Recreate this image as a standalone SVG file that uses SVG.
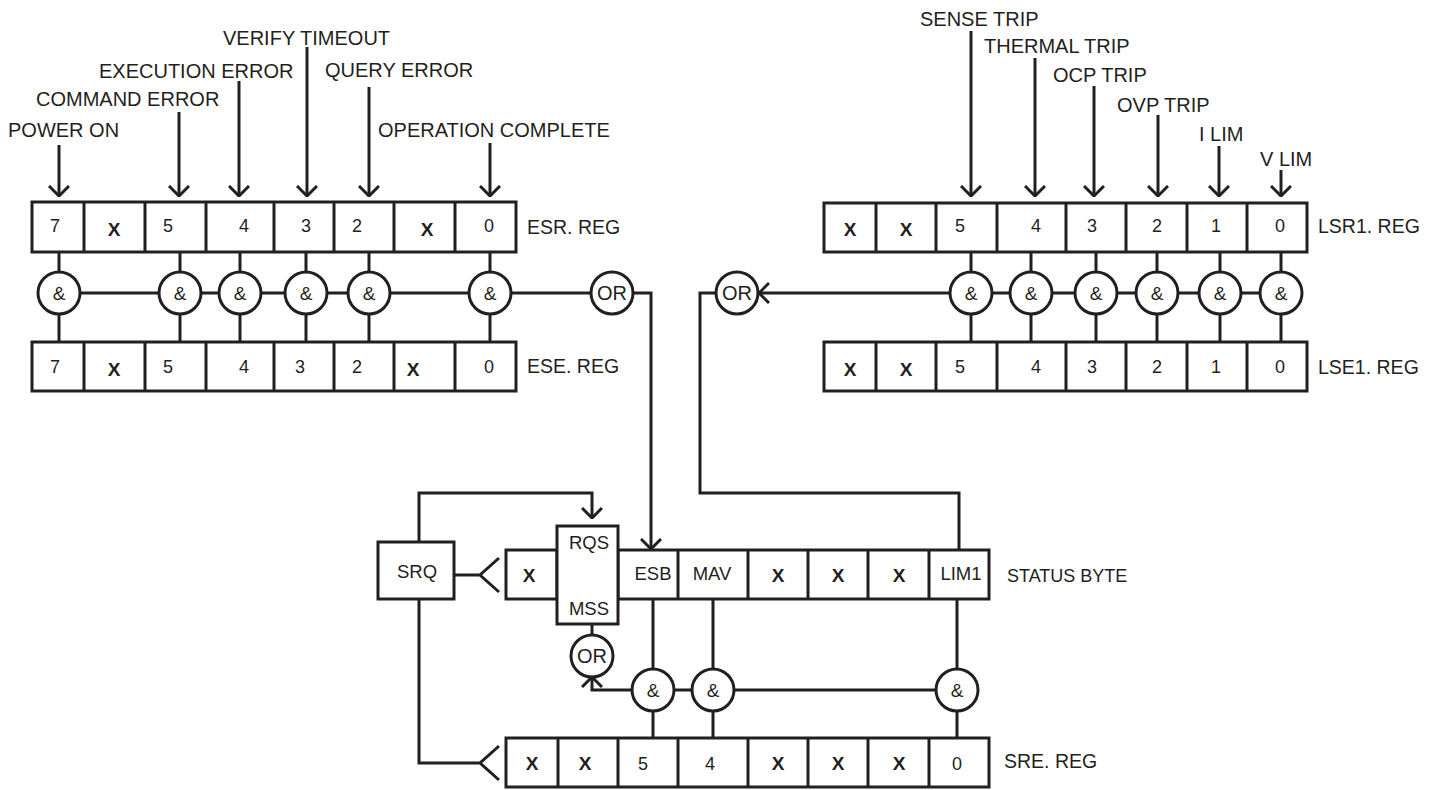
<svg xmlns="http://www.w3.org/2000/svg" width="1439" height="790" viewBox="0 0 1439 790">
<style>
.ln{fill:none;stroke:#231f20;stroke-width:3}
.box{fill:#fff;stroke:#231f20;stroke-width:3}
.gate{fill:#fff;stroke:#231f20;stroke-width:3}
text{font-family:"Liberation Sans",Arial,sans-serif;fill:#231f20}
.lbl{font-size:20px}
.reg{font-size:19.5px}
.sb{font-size:18px}
.d{font-size:18px;text-anchor:middle}
.x{font-size:19px;font-weight:bold;text-anchor:middle}
.c{font-size:18.5px;text-anchor:middle}
.g{font-size:19px;text-anchor:middle}
.o{font-size:20px;text-anchor:middle}
</style>
<defs>
<marker id="arr" viewBox="0 0 12 22" refX="11" refY="11" markerWidth="12" markerHeight="22" markerUnits="userSpaceOnUse" orient="auto">
<path d="M1,1 L11,11 L1,21" fill="none" stroke="#231f20" stroke-width="3"/>
</marker>
</defs>
<rect width="1439" height="790" fill="#fff"/>

<g id="connectors">
<path class="ln" d="M59,145 V196" marker-end="url(#arr)"/>
<path class="ln" d="M179,112 V196" marker-end="url(#arr)"/>
<path class="ln" d="M239,81 V196" marker-end="url(#arr)"/>
<path class="ln" d="M307,47 V196" marker-end="url(#arr)"/>
<path class="ln" d="M369,87 V196" marker-end="url(#arr)"/>
<path class="ln" d="M490,143 V196" marker-end="url(#arr)"/>
<path class="ln" d="M971,31 V196" marker-end="url(#arr)"/>
<path class="ln" d="M1035,58 V196" marker-end="url(#arr)"/>
<path class="ln" d="M1094,86 V196" marker-end="url(#arr)"/>
<path class="ln" d="M1158,115 V196" marker-end="url(#arr)"/>
<path class="ln" d="M1219,146 V196" marker-end="url(#arr)"/>
<path class="ln" d="M1281,170 V196" marker-end="url(#arr)"/>
<path class="ln" d="M59,252 V342 M180,252 V342 M240,252 V342 M306,252 V342 M369,252 V342 M490,252 V342"/>
<path class="ln" d="M59,293 H612"/>
<path class="ln" d="M612,293 H651 V549" marker-end="url(#arr)"/>
<path class="ln" d="M971,252 V342 M1031,252 V342 M1096,252 V342 M1157,252 V342 M1220,252 V342 M1281,252 V342"/>
<path class="ln" d="M1281,293 H759" marker-end="url(#arr)"/>
<path class="ln" d="M716,293 H700 V493 H959 V550"/>
<path class="ln" d="M419,542 V493 H592 V518" marker-end="url(#arr)"/>
<path class="ln" d="M454,575 H480 M499,558 L480,575 L499,592"/>
<path class="ln" d="M419,599 V763 H480 M499,746 L480,763 L499,780"/>
<path class="ln" d="M653,599 V738 M713,599 V738 M957,599 V738"/>
<path class="ln" d="M653,690 H957"/>
<path class="ln" d="M632,690 H592 V677" marker-end="url(#arr)"/>
<path class="ln" d="M592,624 V635"/>
</g>

<g id="labels">
<text class="lbl" x="8" y="137">POWER ON</text>
<text class="lbl" x="36" y="106">COMMAND ERROR</text>
<text class="lbl" x="99" y="78">EXECUTION ERROR</text>
<text class="lbl" x="223" y="45">VERIFY TIMEOUT</text>
<text class="lbl" x="325" y="77">QUERY ERROR</text>
<text class="lbl" x="378" y="137">OPERATION COMPLETE</text>
<text class="lbl" x="920" y="26">SENSE TRIP</text>
<text class="lbl" x="984" y="53">THERMAL TRIP</text>
<text class="lbl" x="1053" y="82">OCP TRIP</text>
<text class="lbl" x="1117" y="112">OVP TRIP</text>
<text class="lbl" x="1199" y="141">I LIM</text>
<text class="lbl" x="1260" y="166">V LIM</text>
</g>

<g id="esr-reg">
<rect class="box" x="32" y="202" width="484" height="50"/>
<path class="ln" d="M84,202 V252 M145,202 V252 M206,202 V252 M274,202 V252 M334,202 V252 M394,202 V252 M455,202 V252"/>
<text class="d" x="55" y="232">7</text>
<text class="x" x="114" y="236">X</text>
<text class="d" x="168" y="232">5</text>
<text class="d" x="244" y="232">4</text>
<text class="d" x="306" y="232">3</text>
<text class="d" x="357" y="232">2</text>
<text class="x" x="427" y="236">X</text>
<text class="d" x="489" y="232">0</text>
<text class="reg" x="527" y="234">ESR. REG</text>
</g>

<g id="ese-reg">
<rect class="box" x="32" y="342" width="484" height="49"/>
<path class="ln" d="M84,342 V391 M145,342 V391 M206,342 V391 M274,342 V391 M334,342 V391 M394,342 V391 M455,342 V391"/>
<text class="d" x="55" y="373">7</text>
<text class="x" x="114" y="376">X</text>
<text class="d" x="168" y="373">5</text>
<text class="d" x="244" y="373">4</text>
<text class="d" x="300" y="373">3</text>
<text class="d" x="357" y="373">2</text>
<text class="x" x="413" y="376">X</text>
<text class="d" x="489" y="373">0</text>
<text class="reg" x="527" y="373">ESE. REG</text>
</g>

<g id="esr-gates">
<g id="and-e7"><circle class="gate" cx="59" cy="293" r="21"/><text class="g" x="59" y="300">&amp;</text></g>
<g id="and-e5"><circle class="gate" cx="180" cy="293" r="21"/><text class="g" x="180" y="300">&amp;</text></g>
<g id="and-e4"><circle class="gate" cx="240" cy="293" r="21"/><text class="g" x="240" y="300">&amp;</text></g>
<g id="and-e3"><circle class="gate" cx="306" cy="293" r="21"/><text class="g" x="306" y="300">&amp;</text></g>
<g id="and-e2"><circle class="gate" cx="369" cy="293" r="21"/><text class="g" x="369" y="300">&amp;</text></g>
<g id="and-e0"><circle class="gate" cx="490" cy="293" r="21"/><text class="g" x="490" y="300">&amp;</text></g>
<g id="or-esr"><circle class="gate" cx="612" cy="293" r="21"/><text class="o" x="612" y="300">OR</text></g>
</g>

<g id="lsr1-reg">
<rect class="box" x="824" y="203" width="483" height="49"/>
<path class="ln" d="M876,203 V252 M936,203 V252 M997,203 V252 M1066,203 V252 M1126,203 V252 M1187,203 V252 M1247,203 V252"/>
<text class="x" x="850" y="236">X</text>
<text class="x" x="906" y="236">X</text>
<text class="d" x="960" y="232">5</text>
<text class="d" x="1036" y="232">4</text>
<text class="d" x="1092" y="232">3</text>
<text class="d" x="1157" y="232">2</text>
<text class="d" x="1216" y="232">1</text>
<text class="d" x="1280" y="232">0</text>
<text class="reg" x="1318" y="233">LSR1. REG</text>
</g>

<g id="lse1-reg">
<rect class="box" x="824" y="342" width="483" height="49"/>
<path class="ln" d="M876,342 V391 M936,342 V391 M997,342 V391 M1066,342 V391 M1126,342 V391 M1187,342 V391 M1247,342 V391"/>
<text class="x" x="850" y="376">X</text>
<text class="x" x="906" y="376">X</text>
<text class="d" x="960" y="373">5</text>
<text class="d" x="1036" y="373">4</text>
<text class="d" x="1092" y="373">3</text>
<text class="d" x="1157" y="373">2</text>
<text class="d" x="1216" y="373">1</text>
<text class="d" x="1280" y="373">0</text>
<text class="reg" x="1318" y="374">LSE1. REG</text>
</g>

<g id="lsr-gates">
<g id="and-l5"><circle class="gate" cx="971" cy="293" r="21"/><text class="g" x="971" y="300">&amp;</text></g>
<g id="and-l4"><circle class="gate" cx="1031" cy="293" r="21"/><text class="g" x="1031" y="300">&amp;</text></g>
<g id="and-l3"><circle class="gate" cx="1096" cy="293" r="21"/><text class="g" x="1096" y="300">&amp;</text></g>
<g id="and-l2"><circle class="gate" cx="1157" cy="293" r="21"/><text class="g" x="1157" y="300">&amp;</text></g>
<g id="and-l1"><circle class="gate" cx="1220" cy="293" r="21"/><text class="g" x="1220" y="300">&amp;</text></g>
<g id="and-l0"><circle class="gate" cx="1281" cy="293" r="21"/><text class="g" x="1281" y="300">&amp;</text></g>
<g id="or-lsr"><circle class="gate" cx="737" cy="293" r="21"/><text class="o" x="737" y="300">OR</text></g>
</g>

<g id="srq">
<rect class="box" x="378" y="542" width="76" height="57"/>
<text class="c" x="417" y="578">SRQ</text>
</g>

<g id="status-byte">
<rect class="box" x="506" y="550" width="51" height="49"/>
<text class="x" x="529" y="582">X</text>
<rect class="box" x="618" y="550" width="371" height="49"/>
<path class="ln" d="M678,550 V599 M748,550 V599 M808,550 V599 M868,550 V599 M929,550 V599"/>
<text class="c" x="653" y="580">ESB</text>
<text class="c" x="712" y="580">MAV</text>
<text class="x" x="778" y="582">X</text>
<text class="x" x="838" y="582">X</text>
<text class="x" x="899" y="582">X</text>
<text class="c" x="961" y="580">LIM1</text>
<text class="sb" x="1007" y="582">STATUS BYTE</text>
</g>

<g id="rqs-mss">
<rect class="box" x="557" y="526" width="61" height="98"/>
<text class="c" x="589" y="549">RQS</text>
<text class="c" x="589" y="615">MSS</text>
</g>

<g id="status-gates">
<g id="or-status"><circle class="gate" cx="592" cy="656" r="21"/><text class="o" x="592" y="663">OR</text></g>
<g id="and-s5"><circle class="gate" cx="653" cy="690" r="21"/><text class="g" x="653" y="697">&amp;</text></g>
<g id="and-s4"><circle class="gate" cx="713" cy="690" r="21"/><text class="g" x="713" y="697">&amp;</text></g>
<g id="and-s0"><circle class="gate" cx="957" cy="690" r="21"/><text class="g" x="957" y="697">&amp;</text></g>
</g>

<g id="sre-reg">
<rect class="box" x="506" y="738" width="483" height="49"/>
<path class="ln" d="M558,738 V787 M618,738 V787 M678,738 V787 M748,738 V787 M808,738 V787 M868,738 V787 M929,738 V787"/>
<text class="x" x="532" y="770">X</text>
<text class="x" x="585" y="770">X</text>
<text class="d" x="643" y="770">5</text>
<text class="d" x="710" y="770">4</text>
<text class="x" x="778" y="770">X</text>
<text class="x" x="838" y="770">X</text>
<text class="x" x="899" y="770">X</text>
<text class="d" x="957" y="770">0</text>
<text class="reg" x="1004" y="768">SRE. REG</text>
</g>
</svg>
